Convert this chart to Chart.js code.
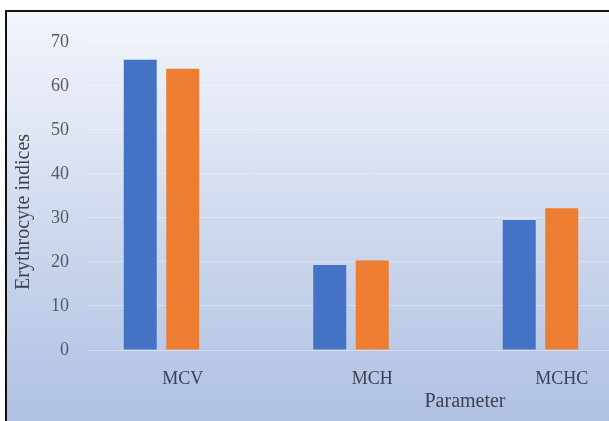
<!DOCTYPE html>
<html>
<head>
<meta charset="utf-8">
<script src="https://cdn.jsdelivr.net/npm/chart.js@4.4.1/dist/chart.umd.min.js"></script>
<style>
  html, body { margin: 0; padding: 0; width: 609px; height: 421px; overflow: hidden; background: #ffffff; }
  #frame {
    position: absolute; left: 5px; top: 10px;
    width: 700px; height: 420px;
    border-left: 2px solid #111; border-top: 2px solid #111;
    background: linear-gradient(to bottom, #f2f5fc 0%, #dfe5f3 30%, #ccd7ec 55%, #bccbe7 78%, #aebfe2 100%);
  }
  #chart { position: absolute; left: 0; top: 0; }
</style>
</head>
<body>
<div id="frame"><canvas id="chart" width="700" height="410"></canvas></div>
<script>
// Erythrocyte indices by parameter
const categories = ['MCV', 'MCH', 'MCHC'];
const seriesA = [65.9, 19.3, 29.5];
const seriesB = [63.9, 20.3, 32.2];
const seriesC = [null, null, null]; // empty third series, keeps its slot in each group
const yTicks = [0, 10, 20, 30, 40, 50, 60, 70];
const xTitle = 'Parameter';
const yTitle = 'Erythrocyte indices';

const serif = '"Liberation Serif", "Times New Roman", serif';

const axisTitles = {
  id: 'axisTitles',
  afterDraw(chart) {
    const { ctx, chartArea } = chart;
    ctx.save();
    ctx.fillStyle = '#3f4250';
    ctx.font = '20px ' + serif;
    ctx.textAlign = 'center';
    ctx.textBaseline = 'middle';
    ctx.fillText(xTitle, chartArea.left + 377, chartArea.bottom + 52);
    ctx.translate(17, (chartArea.top + chartArea.bottom) / 2 + 16);
    ctx.rotate(-Math.PI / 2);
    ctx.fillText(yTitle, 0, 0);
    ctx.restore();
  }
};

new Chart(document.getElementById('chart'), {
  type: 'bar',
  data: {
    labels: categories,
    datasets: [
      { label: 'Series 1', data: seriesA, backgroundColor: '#4472C4' },
      { label: 'Series 2', data: seriesB, backgroundColor: '#ED7D31' },
      { label: 'Series 3', data: seriesC, backgroundColor: '#A5A5A5' }
    ]
  },
  options: {
    responsive: false,
    animation: false,
    devicePixelRatio: 1,
    layout: { padding: { top: 18, right: 50.5, bottom: 0, left: 0 } },
    datasets: { bar: { categoryPercentage: 0.673, barPercentage: 0.776 } },
    plugins: { legend: { display: false }, tooltip: { enabled: false } },
    scales: {
      x: {
        grid: { display: false },
        border: { display: false },
        ticks: {
          color: '#3f4250',
          font: { family: serif, size: 18 },
          padding: 10,
          maxRotation: 0,
          autoSkip: false
        },
        afterFit(scale) { scale.height = 72; }
      },
      y: {
        min: 0,
        max: 70,
        afterBuildTicks(scale) { scale.ticks = yTicks.map(v => ({ value: v })); },
        grid: { color: 'rgba(255,255,255,0.35)', lineWidth: 1, drawTicks: false },
        border: { display: false },
        ticks: {
          color: '#555a66',
          font: { family: serif, size: 18 },
          padding: 19
        },
        afterFit(scale) { scale.width = 81; }
      }
    }
  },
  plugins: [axisTitles]
});
</script>
</body>
</html>
